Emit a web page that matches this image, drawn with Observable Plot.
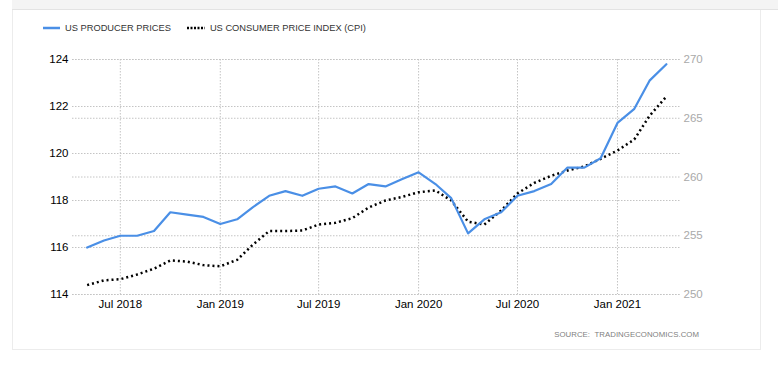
<!DOCTYPE html>
<html>
<head>
<meta charset="utf-8">
<script src="https://cdn.jsdelivr.net/npm/d3@7"></script>
<script src="https://cdn.jsdelivr.net/npm/@observablehq/plot@0.6"></script>
<style>
  html, body { margin: 0; padding: 0; background: #fff; }
  #wrap { position: relative; width: 778px; height: 380px; overflow: hidden; font-family: "Liberation Sans", Arial, sans-serif; }
  #band { position: absolute; left: 12px; top: 0; width: 766px; height: 9px; background: #f4f4f4; border-bottom: 1px solid #e3e3e3; }
  #card { position: absolute; left: 12px; top: 10px; width: 747px; height: 339px; border-left: 1px solid #ececec; border-right: 1px solid #ececec; border-bottom: 1px solid #ececec; }
  #legend { position: absolute; left: 43px; top: 23px; font-size: 9.3px; color: #333; display: flex; align-items: center; white-space: nowrap; }
  #legend .item { display: flex; align-items: center; margin-right: 16px; }
  #legend svg { margin-right: 5px; }
  #source { position: absolute; right: 79px; top: 330px; font-size: 7.8px; color: #808080; letter-spacing: 0.05px; white-space: nowrap; }
  #chart { position: absolute; left: 0; top: 0; }
</style>
</head>
<body>
<div id="wrap">
  <div id="band"></div>
  <div id="card"></div>
  <div id="chart"></div>
  <div id="legend"></div>
  <div id="source">SOURCE:&nbsp;&nbsp;TRADINGECONOMICS.COM</div>
</div>
<script>
// ---- data ----
const months = [
  "2018-05","2018-06","2018-07","2018-08","2018-09","2018-10","2018-11","2018-12",
  "2019-01","2019-02","2019-03","2019-04","2019-05","2019-06","2019-07","2019-08","2019-09","2019-10","2019-11","2019-12",
  "2020-01","2020-02","2020-03","2020-04","2020-05","2020-06","2020-07","2020-08","2020-09","2020-10","2020-11","2020-12",
  "2021-01","2021-02","2021-03","2021-04"
];
const producerPrices = [
  116.0,116.3,116.5,116.5,116.7,117.5,117.4,117.3,
  117.0,117.2,117.7,118.2,118.4,118.2,118.5,118.6,118.3,118.7,118.6,118.9,
  119.2,118.7,118.1,116.6,117.2,117.5,118.2,118.4,118.7,119.4,119.4,119.8,
  121.3,121.9,123.1,123.8
];
const consumerPriceIndex = [
  250.8,251.2,251.3,251.7,252.2,252.9,252.8,252.5,
  252.4,252.95,254.2,255.4,255.4,255.45,255.95,256.1,256.5,257.4,258.0,258.3,
  258.7,258.85,258.0,256.2,255.95,257.15,258.6,259.5,260.1,260.55,260.9,261.55,
  262.25,263.2,265.2,266.85
];
const leftTicks = [114, 116, 118, 120, 122, 124];
const rightTicks = [250, 255, 260, 265, 270];
const xTickMonths = ["2018-07","2019-01","2019-07","2020-01","2020-07","2021-01"];
const xDomain = ["2018-04-04", "2021-04-27"];
const leftDomain = [114, 124];
const rightDomain = [250, 270];
const seriesNames = ["US PRODUCER PRICES", "US CONSUMER PRICE INDEX (CPI)"];

// ---- build ----
const parse = d3.utcParse("%Y-%m");
const toLeft = d3.scaleLinear().domain(rightDomain).range(leftDomain);
const ppiData = months.map((m, i) => ({date: parse(m), value: producerPrices[i]}));
const cpiData = months.map((m, i) => ({date: parse(m), value: toLeft(consumerPriceIndex[i]), raw: consumerPriceIndex[i]}));
const rightTicksMapped = rightTicks.map(toLeft);
const xTicks = xTickMonths.map(parse);

const blue = "#4a8fe6";
const gridStyle = {stroke: "#c4c4c4", strokeOpacity: 1, strokeDasharray: "1.5,1.5", strokeWidth: 1};

const chart = Plot.plot({
  width: 778,
  height: 320,
  marginTop: 59,
  marginBottom: 26,
  marginLeft: 72,
  marginRight: 98,
  style: {fontFamily: "'Liberation Sans', Arial, sans-serif", fontSize: "11.5px", background: "transparent", overflow: "visible"},
  x: {type: "utc", domain: xDomain.map(d => d3.utcParse("%Y-%m-%d")(d))},
  y: {domain: leftDomain},
  marks: [
    Plot.gridY(leftTicks, gridStyle),
    Plot.gridY(rightTicksMapped, gridStyle),
    Plot.gridX(xTicks, gridStyle),
    Plot.axisY(leftTicks, {anchor: "left", tickSize: 0, tickPadding: 4, fill: "#000", label: null, tickFormat: d => d}),
    Plot.axisY(rightTicksMapped, {anchor: "right", tickSize: 0, tickPadding: 3, fill: "#a9a9a9", label: null, tickFormat: d => String(Math.round(toLeft.invert(d)))}),
    Plot.axisX(xTicks, {tickSize: 0, tickPadding: 5, fill: "#000", label: null, tickFormat: d3.utcFormat("%b %Y")}),
    Plot.line(cpiData, {x: "date", y: "value", stroke: "#000", strokeWidth: 2.5, strokeDasharray: "2,3", strokeLinecap: "butt", curve: "linear"}),
    Plot.line(ppiData, {x: "date", y: "value", stroke: blue, strokeWidth: 2.2, curve: "linear"})
  ]
});
document.getElementById("chart").appendChild(chart);

// ---- legend ----
const legend = document.getElementById("legend");
legend.innerHTML = `
  <div class="item"><svg width="17" height="4"><line x1="0" x2="17" y1="2" y2="2" stroke="${blue}" stroke-width="2.5"/></svg><span>${seriesNames[0]}</span></div>
  <div class="item"><svg width="18" height="4"><line x1="0" x2="18" y1="2" y2="2" stroke="#000" stroke-width="2.5" stroke-dasharray="2,1.5"/></svg><span>${seriesNames[1]}</span></div>
`;
</script>
</body>
</html>
